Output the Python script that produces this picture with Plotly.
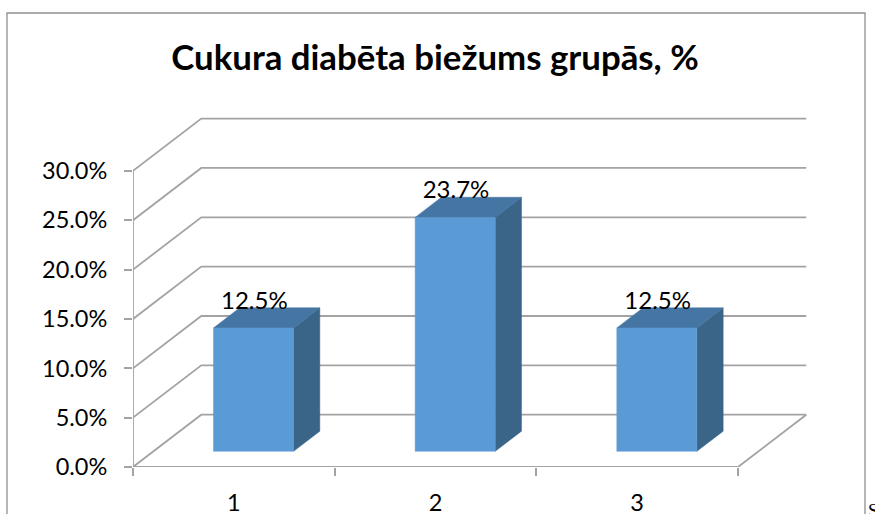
"""Cukura diabēta biežums grupās: Excel-style 3D column chart drawn on flat axes."""

import plotly.graph_objects as go

# Chart data
CATEGORIES = [1, 2, 3]
VALUES = [12.5, 23.7, 12.5]
Y_TICKS = [0, 5, 10, 15, 20, 25, 30]
Y_LABELS = ["0.0%", "5.0%", "10.0%", "15.0%", "20.0%", "25.0%", "30.0%"]
X_EDGES = [0.5, 1.5, 2.5, 3.5]
TITLE = "Cukura diabēta biežums grupās, %"

# Projection of the depth direction, in axis units
DEPTH_X = 0.3385
DEPTH_Y = 5.3
BAR_WIDTH = 0.397
BAR_NEAR = 0.3  # where the bar starts along the floor depth
BAR_DEEP = 0.385  # how deep the bar itself is
BAR_NUDGE = -0.004  # about a pixel left, to sit where the reference bars sit

# Pixel box of the plot area in the 875x514 page
LEFT, RIGHT, TOP, BOTTOM = 133, 807, 117, 467
PX_PER_X = 201.67
PX_PER_Y = 9.87

GRID = "#a3a3a3"
FRAME = "#8f8f8f"
FRONT = "#5b9bd5"
ROOF = "#4575a2"
SIDE = "#3a6488"
FONT = "Lato"


def paper_x(px):
    return (px - LEFT) / (RIGHT - LEFT)


def paper_y(py):
    return (BOTTOM - py) / (BOTTOM - TOP)


def face(xs, ys, color):
    return go.Scatter(
        x=xs, y=ys, mode="lines", fill="toself", fillcolor=color,
        line=dict(color=color, width=0.5), hoverinfo="skip", showlegend=False,
    )


fig = go.Figure()

# Walls: each gridline runs up the side wall and then along the back wall
grid_x, grid_y = [], []
for tick in Y_TICKS:
    grid_x += [X_EDGES[0], X_EDGES[0] + DEPTH_X, X_EDGES[-1] + DEPTH_X, None]
    grid_y += [tick, tick + DEPTH_Y, tick + DEPTH_Y, None]
# Floor edges and the front vertical axis
grid_x += [X_EDGES[0], X_EDGES[0], None, X_EDGES[0], X_EDGES[-1], X_EDGES[-1] + DEPTH_X]
grid_y += [Y_TICKS[0], Y_TICKS[-1], None, 0, 0, DEPTH_Y]
fig.add_trace(go.Scatter(
    x=grid_x, y=grid_y, mode="lines", line=dict(color=GRID, width=1.8),
    hoverinfo="skip", showlegend=False,
))

# Bars
for cat, val in zip(CATEGORIES, VALUES):
    x0 = cat - BAR_WIDTH / 2 + BAR_NEAR * DEPTH_X + BAR_NUDGE
    x1 = x0 + BAR_WIDTH
    y0 = BAR_NEAR * DEPTH_Y
    y1 = y0 + val
    dx = BAR_DEEP * DEPTH_X
    dy = BAR_DEEP * DEPTH_Y
    fig.add_trace(face([x1, x1 + dx, x1 + dx, x1, x1], [y0, y0 + dy, y1 + dy, y1, y0], SIDE))
    fig.add_trace(face([x0, x0 + dx, x1 + dx, x1, x0], [y1, y1 + dy, y1 + dy, y1, y1], ROOF))
    fig.add_trace(face([x0, x1, x1, x0, x0], [y0, y0, y1, y1, y0], FRONT))

# Value labels sit on the roof of each bar
fig.add_trace(go.Scatter(
    x=[c + BAR_NEAR * DEPTH_X for c in CATEGORIES],
    y=[v + BAR_NEAR * DEPTH_Y + 2.55 for v in VALUES],
    mode="text",
    text=[f"{v:.1f}%" for v in VALUES],
    textposition="middle center",
    textfont=dict(family=FONT, size=24, color="#000000"),
    hoverinfo="skip", showlegend=False,
))

fig.update_layout(
    width=875, height=514,
    margin=dict(l=LEFT, r=875 - RIGHT, t=TOP, b=514 - BOTTOM, autoexpand=False),
    paper_bgcolor="white", plot_bgcolor="white",
    font=dict(family=FONT, color="#000000", size=23.5),
    title=dict(
        text=f"<b>{TITLE}</b>", font=dict(family=FONT, size=34.8, color="#000000"),
        x=435 / 875, xanchor="center", y=1 - 58 / 514, yanchor="middle",
    ),
    shapes=[dict(
        type="path", xref="paper", yref="paper",
        path=(
            f"M {paper_x(7)} {paper_y(514)} L {paper_x(7)} {paper_y(13)} "
            f"L {paper_x(865)} {paper_y(13)} L {paper_x(865)} {paper_y(514)}"
        ),
        line=dict(color=FRAME, width=1.3),
    )],
    annotations=[dict(
        text="S", xref="paper", yref="paper", x=paper_x(866), y=paper_y(498),
        xanchor="left", yanchor="top", showarrow=False,
        font=dict(family="Liberation Serif", size=19, color="#000000"),
    )],
)
fig.update_xaxes(
    range=[X_EDGES[0], X_EDGES[0] + (RIGHT - LEFT) / PX_PER_X],
    tickvals=CATEGORIES, ticktext=[str(c) for c in CATEGORIES],
    ticks="", ticklabelstandoff=19, showgrid=False, zeroline=False, showline=False,
    minor=dict(tickvals=X_EDGES, ticks="outside", ticklen=8, tickwidth=1.5, tickcolor=GRID),
)
fig.update_yaxes(
    range=[0, (BOTTOM - TOP) / PX_PER_Y],
    tickvals=Y_TICKS, ticktext=Y_LABELS,
    ticks="outside", ticklen=8, tickwidth=1.5, tickcolor=GRID,
    ticklabelstandoff=12, showgrid=False, zeroline=False, showline=False,
)

fig.write_html(
    "out.html",
    config={"displayModeBar": False},
    post_script="document.body.style.margin = '0';",
)
